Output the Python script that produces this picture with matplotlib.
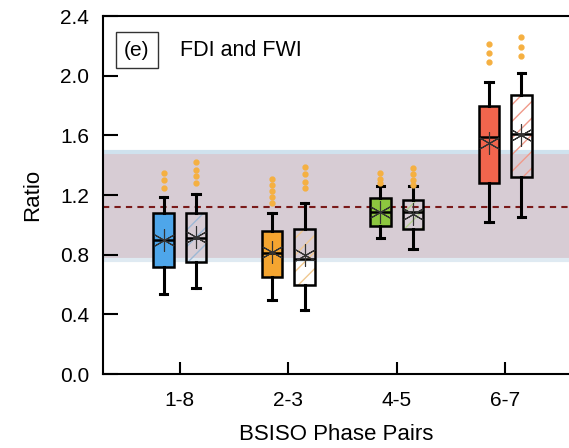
import matplotlib
matplotlib.use("Agg")
import matplotlib.pyplot as plt
from matplotlib.colors import to_rgba

plt.rcParams['font.family'] = ['Liberation Sans', 'DejaVu Sans']
plt.rcParams['hatch.linewidth'] = 1.0

# Phase pairs and box statistics
pairs = ["1-8", "2-3", "4-5", "6-7"]
colors = ["#4ea6ea", "#f5a530", "#8dc63f", "#f2654d"]
hatch_colors = ["#9db8d4", "#f0c890", "#b5cf90", "#f09a8a"]

# FDI boxes (filled)
fdi_q1 = [0.72, 0.65, 0.99, 1.28]
fdi_med = [0.90, 0.81, 1.09, 1.59]
fdi_q3 = [1.08, 0.96, 1.18, 1.80]
fdi_lo = [0.54, 0.50, 0.91, 1.02]
fdi_hi = [1.19, 1.08, 1.26, 1.96]
fdi_mean = [0.90, 0.82, 1.09, 1.55]
fdi_fliers = [[1.25, 1.30, 1.35], [1.15, 1.19, 1.23, 1.27, 1.31],
              [1.28, 1.31, 1.35], [2.09, 2.15, 2.21]]

# FWI boxes (hatched)
fwi_q1 = [0.75, 0.60, 0.97, 1.32]
fwi_med = [0.91, 0.77, 1.09, 1.61]
fwi_q3 = [1.08, 0.97, 1.17, 1.87]
fwi_lo = [0.58, 0.43, 0.84, 1.05]
fwi_hi = [1.21, 1.15, 1.26, 2.02]
fwi_mean = [0.92, 0.80, 1.07, 1.60]
fwi_fliers = [[1.28, 1.33, 1.37, 1.42], [1.25, 1.29, 1.34, 1.39],
              [1.27, 1.30, 1.34, 1.38], [2.13, 2.19, 2.26]]

band_lo, band_hi = 0.775, 1.48
ref_line = 1.12

def make_stats ( q1, med, q3, lo, hi, mean, fliers ) :
    stats = []
    for i in range ( len(q1) ) :
        stats.append ( dict(q1=q1[i], med=med[i], q3=q3[i], whislo=lo[i], whishi=hi[i],
                            mean=mean[i], fliers=fliers[i]) )
    return stats

fig = plt.figure ( figsize=(5.69, 4.48), dpi=100 )
ax = fig.add_axes ( [0.181, 0.165, 0.819, 0.799] )

# background band and reference line
ax.axhspan ( band_lo, band_hi, color="#d7ccd4", lw=0, zorder=0 )
ax.axhline ( band_hi + 0.01, color="#cfe2ee", lw=3, zorder=0.5 )
ax.axhline ( band_lo - 0.01, color="#dfeaf2", lw=3, zorder=0.5 )
ax.axhline ( ref_line, color="#7a1a1a", lw=1.5, ls=(0, (3, 2.5)), zorder=1 )

pos = list ( range ( 1, len(pairs) + 1 ) )
off = 0.15
w = 0.19

box_kw = dict ( widths=w, showmeans=True, patch_artist=True, zorder=3,
                boxprops=dict(lw=1.8, edgecolor="black"),
                medianprops=dict(color="black", lw=1.8),
                whiskerprops=dict(color="black", lw=2.2),
                capprops=dict(color="black", lw=2.2),
                capwidths=0.07,
                meanprops=dict(marker=(6, 2, 0), markersize=16, markeredgecolor="#333333",
                               markeredgewidth=0.8),
                flierprops=dict(marker="o", markersize=3.5, markerfacecolor="#f5b041",
                                markeredgecolor="#f5b041") )

b1 = ax.bxp ( make_stats(fdi_q1, fdi_med, fdi_q3, fdi_lo, fdi_hi, fdi_mean, fdi_fliers),
              positions=[p - off for p in pos], **box_kw )
b2 = ax.bxp ( make_stats(fwi_q1, fwi_med, fwi_q3, fwi_lo, fwi_hi, fwi_mean, fwi_fliers),
              positions=[p + off for p in pos], **box_kw )

for i in range ( len(pairs) ) :
    b1["boxes"][i].set_facecolor ( colors[i] )
    bx = b2["boxes"][i]
    bx.set_facecolor ( "none" )
    bx.set_hatch ( "//" )
    bx._hatch_color = to_rgba ( hatch_colors[i] )

ax.set_xlim ( 0.29, 4.59 )
ax.set_ylim ( 0.0, 2.4 )
ax.set_yticks ( [0.0, 0.4, 0.8, 1.2, 1.6, 2.0, 2.4] )
ax.set_yticklabels ( ["0.0", "0.4", "0.8", "1.2", "1.6", "2.0", "2.4"] )
ax.set_xticks ( pos )
ax.set_xticklabels ( pairs )
ax.tick_params ( axis="y", direction="in", length=11, width=1.5, labelsize=15, pad=10 )
ax.tick_params ( axis="x", direction="in", length=9, width=1.5, labelsize=15, pad=12 )
for s in ["left", "bottom", "top"] :
    ax.spines[s].set_linewidth ( 1.5 )
ax.spines["right"].set_visible ( False )

ax.set_ylabel ( "Ratio", fontsize=16, labelpad=12 )
ax.set_xlabel ( "BSISO Phase Pairs", fontsize=16, labelpad=10 )

ax.text ( 0.045, 0.905, "(e)", transform=ax.transAxes, fontsize=15, va="center", ha="left",
          bbox=dict(boxstyle="square,pad=0.4", facecolor="white", edgecolor="#333333", lw=1.0) )
ax.text ( 0.165, 0.905, "FDI and FWI", transform=ax.transAxes, fontsize=15.5, va="center", ha="left" )

fig.savefig ( "out.png", dpi=100 )
